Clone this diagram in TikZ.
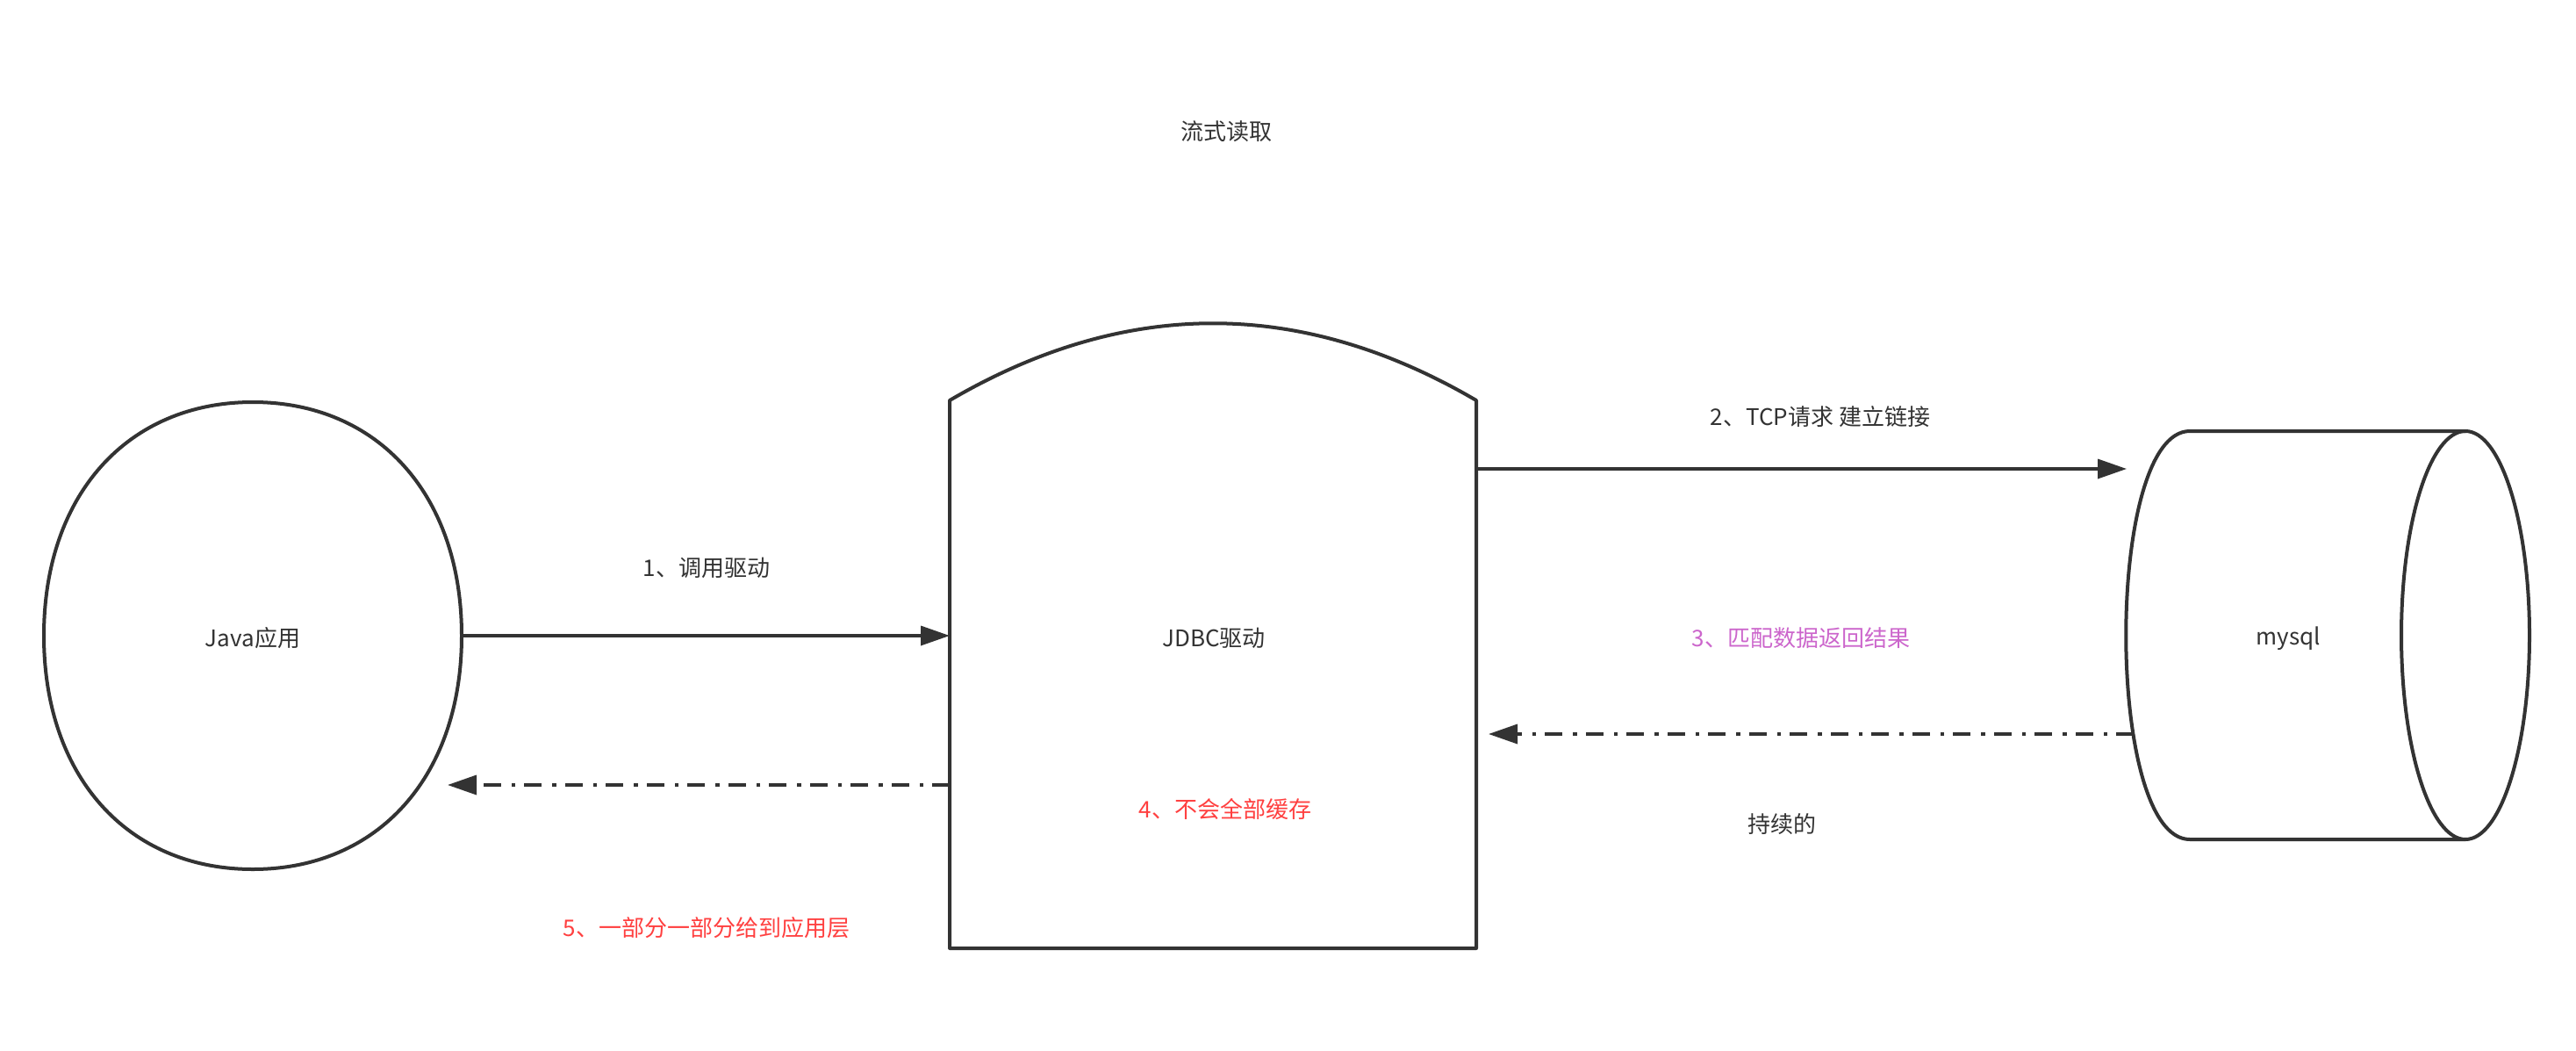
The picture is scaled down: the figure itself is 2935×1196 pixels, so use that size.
\documentclass[tikz,border=0pt]{standalone}
\usepackage{fontspec}
\setmainfont{Noto Sans CJK SC}
\usetikzlibrary{arrows.meta}
\definecolor{ink}{HTML}{333333}
\definecolor{redtxt}{HTML}{FF4040}
\definecolor{purptxt}{HTML}{CC66CC}
\tikzset{
  shapeline/.style={draw=ink, line width=4pt, line join=round},
  conn/.style={draw=ink, line width=3.5pt, -{Triangle[length=33pt,width=22pt]}},
  dashconn/.style={conn, dash pattern=on 20pt off 10pt on 4.5pt off 12pt},
  lbl/.style={font=\fontsize{26pt}{31pt}\selectfont, text=ink, inner sep=0pt},
  redlbl/.style={lbl, text=redtxt},
  purplbl/.style={lbl, text=purptxt}
}
\begin{document}
\begin{tikzpicture}[x=1pt, y=-1pt]
\useasboundingbox (0,0) rectangle (2935,1196);
\fill[white] (0,0) rectangle (2935,1196);

% Java application (rounded ellipse)
\draw[shapeline] (526,724)
  .. controls (526,564) and (431,458) .. (288,458)
  .. controls (145,458) and (50,564) .. (50,724)
  .. controls (50,884) and (145,990) .. (288,990)
  .. controls (431,990) and (526,884) .. (526,724) -- cycle;
\node[lbl] (java) at (288,727) {Java应用};

% JDBC driver shape
\draw[shapeline] (1082,456)
  .. controls (1282,339) and (1482,339) .. (1682,456)
  -- (1682,1080) -- (1082,1080) -- cycle;
\node[lbl] (jdbc) at (1383,727) {JDBC驱动};

% mysql cylinder (horizontal)
\draw[shapeline] (2809,491) -- (2495,491)
  .. controls (2398,491) and (2398,956) .. (2495,956)
  -- (2809,956);
\draw[shapeline] (2809,723.5) ellipse [x radius=73, y radius=232.5];
\node[lbl] (mysql) at (2607,727) {mysql};

% connector end points
\coordinate (javaR) at (526,724);
\coordinate (jdbcL1) at (1082,724);
\coordinate (jdbcR2) at (1682,534);
\coordinate (mysqlL2) at (2423,534);
\coordinate (mysqlL3) at (2431,836);
\coordinate (jdbcR3) at (1696,836);
\coordinate (jdbcL5) at (1082,894);
\coordinate (javaR5) at (510,894);

\draw[conn] (javaR) -- (jdbcL1);
\draw[conn] (jdbcR2) -- (mysqlL2);
\draw[dashconn] (mysqlL3) -- (jdbcR3);
\draw[dashconn] (jdbcL5) -- (javaR5);

% labels
\node[lbl] (title) at (1397,150) {流式读取};
\node[lbl] (l1) at (805,647) {1、调用驱动};
\node[lbl] (l2) at (2074,475) {2、TCP请求 建立链接};
\node[purplbl] (l3) at (2052,727) {3、匹配数据返回结果};
\node[lbl] (l3b) at (2030,939) {持续的};
\node[redlbl] (l4) at (1396,922) {4、不会全部缓存};
\node[redlbl] (l5) at (805,1057) {5、一部分一部分给到应用层};
\end{tikzpicture}
\end{document}
